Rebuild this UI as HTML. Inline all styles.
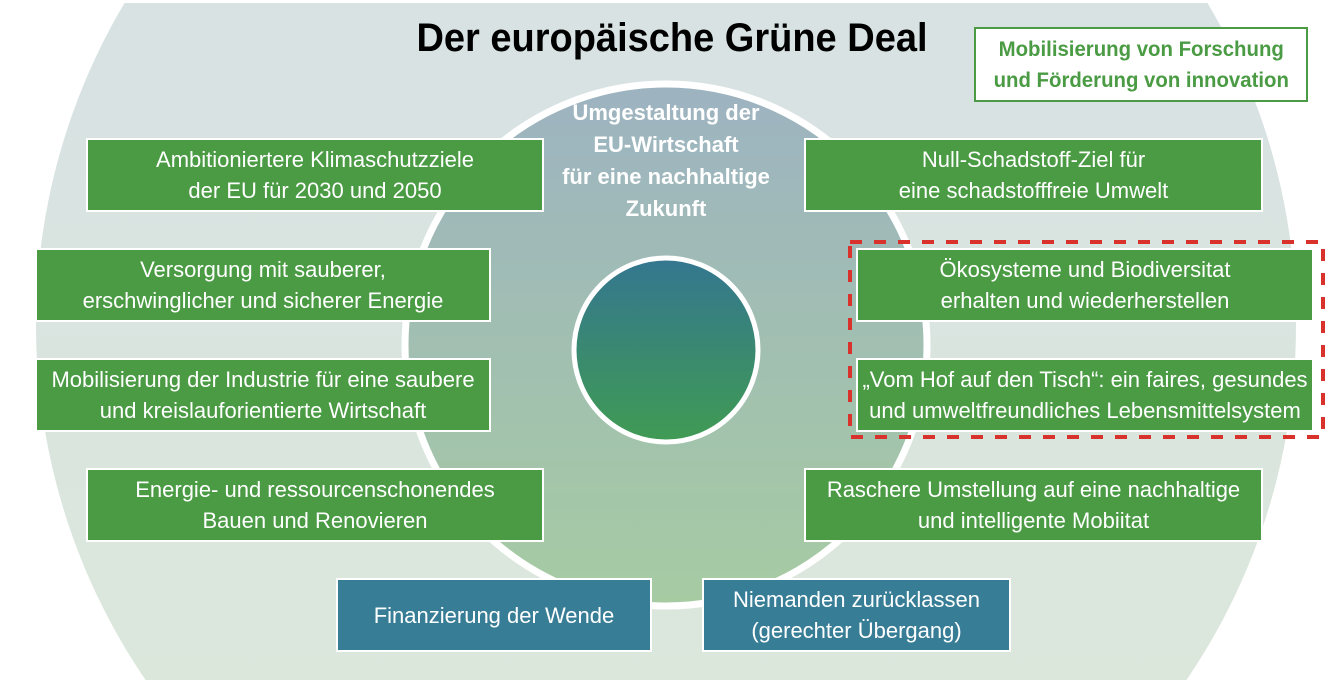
<!DOCTYPE html>
<html style="overflow:hidden"><head><meta charset="utf-8"><style>
html,body{margin:0;width:1332px;height:684px;overflow:hidden}
body{background:#fff;position:relative;font-family:"Liberation Sans Narrow","Liberation Sans",sans-serif}
.b{position:absolute;box-sizing:border-box;border:2px solid #fff;background:#4a9b44;color:#fff;display:flex;align-items:center;justify-content:center;text-align:center;font-size:22px;line-height:31px}
.b span{display:inline-block;white-space:nowrap}
.bl{background:#377d96}
.t{position:absolute;white-space:nowrap;text-align:center}
</style></head><body>
<svg width="1332" height="684" style="position:absolute;left:0;top:0">
<defs>
<linearGradient id="g1" x1="0" y1="0" x2="0" y2="1"><stop offset="0" stop-color="#d6dfe6"/><stop offset="1" stop-color="#dde9d9"/></linearGradient>
<linearGradient id="g2" x1="0" y1="0" x2="0" y2="1"><stop offset="0" stop-color="#9db3c1"/><stop offset="1" stop-color="#a6cba2"/></linearGradient>
<linearGradient id="g3" x1="0" y1="0" x2="0" y2="1"><stop offset="0" stop-color="#347690"/><stop offset="1" stop-color="#409b53"/></linearGradient>
<clipPath id="c"><rect x="0" y="3" width="1332" height="677"/></clipPath>
</defs>
<circle cx="666" cy="325" r="630" fill="url(#g1)" clip-path="url(#c)"/>
<circle cx="666" cy="345" r="261" fill="url(#g2)" stroke="#fff" stroke-width="7"/>
<circle cx="666" cy="350" r="92" fill="url(#g3)" stroke="#fff" stroke-width="5"/>
<rect x="850" y="242" width="473" height="195" fill="none" stroke="#d9312b" stroke-width="4" stroke-dasharray="12,12"/>
</svg>
<div class="t" style="left:372px;top:16px;width:600px;font-size:40px;font-weight:bold;color:#000"><span style="display:inline-block;transform:scaleX(0.95)">Der europäische Grüne Deal</span></div>
<div class="t" style="left:540px;top:97px;width:252px;font-size:22px;line-height:32px;font-weight:bold;color:#fff">Umgestaltung der<br>EU-Wirtschaft<br>für eine nachhaltige<br>Zukunft</div>
<div class="b" style="left:974px;top:27px;width:334px;height:75px;background:#fff;border-color:#4a9b44;color:#4a9b44;font-weight:bold;font-size:21px"><span style="transform:scaleX(0.97)">Mobilisierung von Forschung<br>und Förderung von innovation</span></div>
<div class="b" style="left:86px;top:138px;width:458px;height:74px"><span>Ambitioniertere Klimaschutzziele<br>der EU für 2030 und 2050</span></div>
<div class="b" style="left:35px;top:248px;width:456px;height:74px"><span>Versorgung mit sauberer,<br>erschwinglicher und sicherer Energie</span></div>
<div class="b" style="left:35px;top:358px;width:456px;height:74px"><span>Mobilisierung der Industrie für eine saubere<br>und kreislauforientierte Wirtschaft</span></div>
<div class="b" style="left:86px;top:468px;width:458px;height:74px"><span>Energie- und ressourcenschonendes<br>Bauen und Renovieren</span></div>
<div class="b" style="left:804px;top:138px;width:459px;height:74px"><span>Null-Schadstoff-Ziel für<br>eine schadstofffreie Umwelt</span></div>
<div class="b" style="left:856px;top:248px;width:458px;height:74px"><span>Ökosysteme und Biodiversitat<br>erhalten und wiederherstellen</span></div>
<div class="b" style="left:856px;top:358px;width:458px;height:74px"><span>„Vom Hof auf den Tisch“: ein faires, gesundes<br>und umweltfreundliches Lebensmittelsystem</span></div>
<div class="b" style="left:804px;top:468px;width:459px;height:74px"><span>Raschere Umstellung auf eine nachhaltige<br>und intelligente Mobiitat</span></div>
<div class="b bl" style="left:336px;top:578px;width:316px;height:74px"><span>Finanzierung der Wende</span></div>
<div class="b bl" style="left:702px;top:578px;width:309px;height:74px"><span>Niemanden zurücklassen<br>(gerechter Übergang)</span></div>
</body></html>
